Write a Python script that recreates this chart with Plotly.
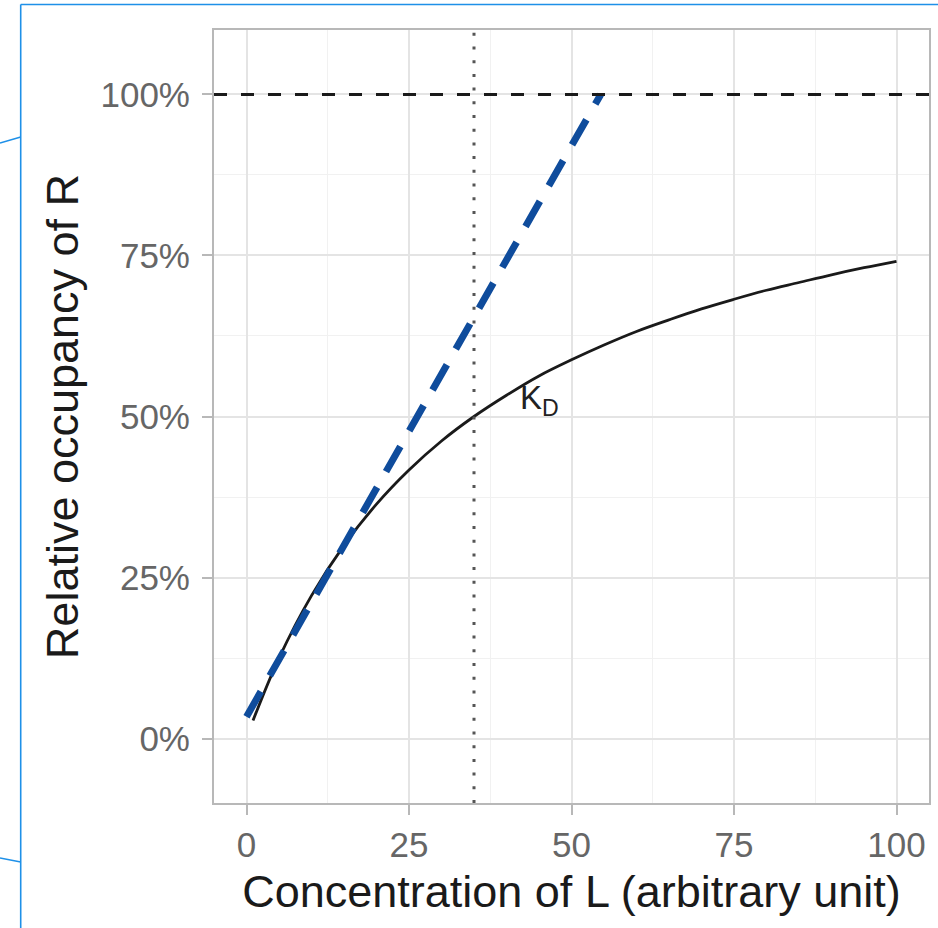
import plotly.graph_objects as go

# ---- data ----
conc = [1, 5, 10, 15, 20, 25, 30, 35, 40, 45, 50, 55, 60, 65, 70, 75, 80, 85, 90, 95, 100]
occupancy = [0.028, 0.125, 0.222, 0.300, 0.364, 0.417, 0.462, 0.500, 0.533, 0.563, 0.588,
             0.611, 0.632, 0.650, 0.667, 0.682, 0.696, 0.708, 0.720, 0.731, 0.741]
linear_conc = [0, 54.5]
linear_occ = [0.034, 1.0]
kd_value = 35
max_occupancy = 1.0
kd_label_pos = (45, 0.525)
x_ticks = [0, 25, 50, 75, 100]
x_ticktext = ["0", "25", "50", "75", "100"]
y_ticks = [0, 0.25, 0.5, 0.75, 1.0]
y_ticktext = ["0%", "25%", "50%", "75%", "100%"]

FONT = "Liberation Sans, Arial, sans-serif"
GRID_MAJOR = "#e4e4e4"
GRID_MINOR = "#f1f1f1"
BORDER = "#b8b8b8"
BLUE = "#0f4c9c"

fig = go.Figure()

fig.add_trace(go.Scatter(
    x=conc, y=occupancy, mode="lines", line=dict(color="#1a1a1a", width=2.8, shape="spline"),
    hoverinfo="skip", showlegend=False))

fig.add_trace(go.Scatter(
    x=linear_conc, y=linear_occ, mode="lines",
    line=dict(color=BLUE, width=7, dash="29px,18px"),
    hoverinfo="skip", showlegend=False))

fig.add_hline(y=max_occupancy, line=dict(color="#1a1a1a", width=3, dash="13px,14px"))
fig.add_vline(x=kd_value, line=dict(color="#555555", width=3, dash="3px,10.7px"))

fig.add_annotation(x=kd_label_pos[0], y=kd_label_pos[1], text="K<sub>D</sub>",
                   showarrow=False, xanchor="center", yanchor="middle",
                   font=dict(family=FONT, size=33, color="#222222"))

axis_common = dict(
    showgrid=True, gridcolor=GRID_MAJOR, gridwidth=1.6,
    zeroline=False, ticks="outside", ticklen=10, tickwidth=1.5, tickcolor=BORDER,
    showline=True, mirror=True, linecolor=BORDER, linewidth=2,
    tickfont=dict(family=FONT, size=35, color="#666666"),
)

fig.update_xaxes(
    range=[-5, 105], tickmode="array", tickvals=x_ticks, ticktext=x_ticktext,
    minor=dict(dtick=12.5, tick0=0, showgrid=True, gridcolor=GRID_MINOR, gridwidth=1, ticks=""),
    ticklabelstandoff=0,
    title=dict(text="Concentration of L (arbitrary unit)",
               font=dict(family=FONT, size=45, color="#1a1a1a"), standoff=12),
    **axis_common)
fig.update_yaxes(
    range=[-0.1, 1.1], tickmode="array", tickvals=y_ticks, ticktext=y_ticktext,
    minor=dict(dtick=0.125, tick0=0, showgrid=True, gridcolor=GRID_MINOR, gridwidth=1, ticks=""),
    ticklabelstandoff=5,
    title=dict(text="Relative occupancy of R",
               font=dict(family=FONT, size=45, color="#1a1a1a"), standoff=8),
    **axis_common)

# screenshot frame decoration (blue border lines at the edges of the image)
L, R, T, B = 214, 9, 30, 125
W, H = 938, 928
pw, ph = W - L - R, H - T - B
def px(x):
    return (x - L) / pw
def py(y):
    return (H - B - y) / ph
frame = dict(color="#1e90e8", width=1.6)
for x0, y0, x1, y1 in [(20.7, 4.5, 938, 4.5), (20.7, 4.5, 20.7, 928),
                       (0, 143, 20.7, 137), (0, 858, 20.7, 862)]:
    fig.add_shape(type="line", xref="paper", yref="paper",
                  x0=px(x0), y0=py(y0), x1=px(x1), y1=py(y1), line=frame, layer="above")

fig.update_layout(
    width=W, height=H,
    margin=dict(l=L, r=R, t=T, b=B, autoexpand=False),
    paper_bgcolor="white", plot_bgcolor="white",
    font=dict(family=FONT),
    showlegend=False,
)

fig.write_html("out.html")
